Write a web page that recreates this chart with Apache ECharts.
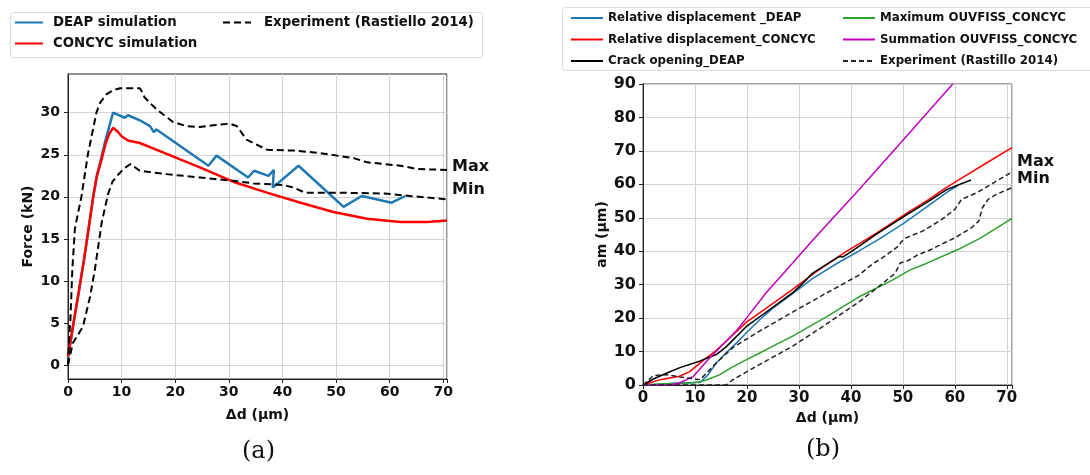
<!DOCTYPE html>
<html><head><meta charset="utf-8">
<script src="https://cdn.jsdelivr.net/npm/echarts@6/dist/echarts.min.js"></script>
<style>html,body{margin:0;padding:0;background:#fff}#c{width:1090px;height:475px}</style>
</head><body><div id="c"></div>
<script>
// ---------- panel (a): Force vs Δd ----------
const deapForce = [[0,0.8],[1,4.8],[2,8.6],[3,12.6],[3.7,15.6],[4.7,20],[5.4,22.6],[6.2,24.6],[6.9,26.5],[8.4,30],[10.6,29.4],[11.2,29.7],[13.4,29.1],[15.3,28.4],[16,27.7],[16.5,28],[26.2,23.7],[27.7,24.9],[33.6,22.3],[34.7,23.1],[37.4,22.5],[38.4,23.2],[38.2,21.1],[43,23.7],[51.4,18.8],[54.8,20.1],[60.4,19.3],[62.9,20.1]];
const concycForce = [[0,1],[0.3,2.2],[1,4.9],[2,8.7],[3,12.6],[3.7,15.6],[4.7,20],[5.4,22.5],[6.2,24.3],[7,26.3],[7.7,27.5],[8.4,28.2],[9.2,27.8],[10,27.2],[11.2,26.7],[13.4,26.4],[18.4,25.1],[24.6,23.5],[30.8,21.8],[37.1,20.5],[43.4,19.3],[49.5,18.2],[55.8,17.4],[62,17.0],[67,17.0],[70.7,17.2]];
const expMaxForce = [[0,0],[0.2,3],[0.45,5.4],[0.8,11.3],[1.3,16.3],[2.5,20],[3.7,25],[5.3,30],[6,31.2],[7.2,32.2],[8.5,32.7],[9.7,32.9],[13.4,32.9],[14,32.3],[14.3,31.8],[16.5,30.4],[19.6,28.9],[22.1,28.4],[24.6,28.3],[27.1,28.5],[30.2,28.7],[31.5,28.4],[33.3,26.8],[37.1,25.6],[42.1,25.5],[47,25.2],[53.3,24.6],[55.8,24.1],[62,23.7],[65.2,23.3],[70.7,23.2]];
const expMinForce = [[0,0],[0.9,2.6],[2.8,4.6],[4.1,8.1],[5.0,11.3],[5.8,14.8],[6.3,17],[7.5,20.4],[8.3,21.8],[9.3,22.6],[10.5,23.4],[11.7,23.9],[12.3,23.6],[13.4,23.1],[18.4,22.7],[24.6,22.3],[30.8,21.9],[34.6,21.6],[40.2,21.4],[42.1,21.1],[44.2,20.5],[49.5,20.5],[59,20.4],[63.9,20.1],[70.7,19.7]];
const forceTicks = [0,5,10,15,20,25,30];

// ---------- panel (b): am vs Δd ----------
const relDispDeap = [[0,0],[3,0.2],[6,0.5],[9,0.7],[11,0.8],[12.5,3],[14.1,6.6],[16,9.6],[18,12.6],[19.9,15.6],[22.5,19.6],[25,23],[28.8,27.3],[32.6,31.8],[37.7,36.7],[41.5,40],[45.4,43.6],[50,48.2],[54,52.6],[58.8,58],[60.5,59.5]];
const relDispConcyc = [[0,0],[3.3,1.6],[7,2.6],[9,4],[11,6.6],[14.1,10.4],[17,14.5],[19.9,18.8],[24,23.3],[28.8,28.6],[33,33.5],[39,39.8],[45,45.5],[50.4,51],[55,55.5],[58.1,58.8],[62,62.5],[66,66.3],[71,71]];
const crackOpeningDeap = [[0,0],[2,1.8],[4.6,3.6],[7.1,5.2],[11,7.2],[14.1,9.1],[16,11.4],[19.9,17.5],[23,21],[26.2,24.6],[28.8,27.6],[30.5,30],[32.6,33.4],[35,35.8],[37.7,38.4],[38.5,38.3],[40,39.8],[45,45.2],[50.4,50.6],[55,55],[58.5,58.5],[63.1,61.3]];
const maxOuvfiss = [[0,0],[3.3,0.3],[9.7,0.7],[11,1],[12.2,1.5],[14.8,3.1],[17,5.2],[19.9,7.6],[22,9.2],[25,11.6],[28.8,14.6],[35.2,20.3],[41.5,26.3],[47.9,31.3],[51.5,34.5],[54.3,36.2],[60.6,40.5],[65,44],[71,49.8]];
const sumOuvfiss = [[0,0],[5.2,0],[7,0.6],[9.7,2.6],[12.2,7],[14.8,11.2],[18,16.3],[19.9,20],[23.7,27.6],[28.8,36.5],[32.6,43.2],[41.5,58.3],[48.1,69.8],[59.6,90]];
const expMaxAm = [[0,0],[2,2.8],[4.6,3.1],[7.1,2.4],[11,1.6],[12.5,4],[14.1,6.6],[17.3,11.2],[20,13.8],[22.4,16.1],[28.8,21.8],[35.2,27.4],[41.5,32.8],[44,36],[46.6,38.6],[48.9,41.2],[50,43.3],[50.6,44],[53.8,46],[57.5,49.5],[60,52.5],[61.3,55.5],[64.5,57.7],[67.5,60.5],[71,63.7]];
const expMinAm = [[0,0],[5,0],[10,0],[16,0],[17.3,1.6],[22.4,6.1],[28.8,11.6],[35.2,18.1],[41.5,24.8],[45,29],[48.5,33.4],[49.5,36.5],[51,37.2],[53,39],[55,40.2],[58.1,42.6],[60,44],[63.2,47],[64.6,49],[65.3,53],[66.4,55.5],[68,57],[71,59]];

const FONT = 'DejaVu Sans';
const chart = echarts.init(document.getElementById('c'), null, {renderer:'canvas'});

function xAxisCfg(grid, max, fs, gap){
  return {type:'value', gridIndex:grid, min:0, max:max, interval:10,
    name:'Δd (µm)', nameLocation:'middle', nameGap:gap,
    nameTextStyle:{fontFamily:FONT, fontWeight:'bold', fontSize:14, color:'#111'},
    axisLine:{show:true, onZero:false, lineStyle:{color:'#222', width:1}},
    axisTick:{show:true, length:4, lineStyle:{color:'#222'}},
    axisLabel:{fontFamily:FONT, fontWeight:'bold', fontSize:fs, color:'#111', margin:6,
      formatter:v => (Math.abs(v%10)<1e-6 ? String(v) : '')},
    splitLine:{show:true, lineStyle:{color:'#d3d3d3', width:1}}};
}
function legendCfg(names, left, top, iw, fs, gap, pad){
  return {data:names, orient:'vertical', left:left, top:top, padding:0,
    itemWidth:iw, itemHeight:14, itemGap:gap, selectedMode:false,
    itemStyle:{opacity:0},
    textStyle:{fontFamily:FONT, fontWeight:'bold', fontSize:fs, color:'#111', padding:[0,0,0,pad]}};
}

const option = {
  animation:false,
  backgroundColor:'#fff',
  grid:[
    {left:68, top:74, width:379, height:305, show:true, borderColor:'#222', borderWidth:1, backgroundColor:'transparent'},
    {left:643, top:84, width:369, height:301, show:true, borderColor:'#444', borderWidth:1, backgroundColor:'transparent'}
  ],
  xAxis:[ xAxisCfg(0, 70.7, 14, 29), xAxisCfg(1, 71, 15, 25) ],
  yAxis:[
    {type:'value', gridIndex:0, min:-1.65, max:34.6, splitNumber:7,
     name:'Force (kN)', nameLocation:'middle', nameGap:33,
     nameTextStyle:{fontFamily:FONT, fontWeight:'bold', fontSize:14, color:'#111'},
     axisLine:{show:true, onZero:false, lineStyle:{color:'#222'}},
     axisTick:{show:true, length:4, lineStyle:{color:'#222'}, customValues:forceTicks},
     axisLabel:{fontFamily:FONT, fontWeight:'bold', fontSize:14, color:'#111', margin:8, customValues:forceTicks},
     splitLine:{show:true, lineStyle:{color:'#d3d3d3'}}},
    {type:'value', gridIndex:1, min:0, max:90, interval:10,
     name:'am (µm)', nameLocation:'middle', nameGap:32,
     nameTextStyle:{fontFamily:FONT, fontWeight:'bold', fontSize:14, color:'#111'},
     axisLine:{show:true, onZero:false, lineStyle:{color:'#222'}},
     axisTick:{show:true, length:4, lineStyle:{color:'#222'}},
     axisLabel:{fontFamily:FONT, fontWeight:'bold', fontSize:16, color:'#111', margin:7},
     splitLine:{show:true, lineStyle:{color:'#d3d3d3'}}}
  ],
  legend:[
    legendCfg(['DEAP simulation','CONCYC simulation'], 14, 16, 28, 13.3, 8, 5),
    legendCfg(['Experiment (Rastiello 2014)'], 222, 16, 28, 13.3, 8, 8),
    legendCfg(['Relative displacement _DEAP','Relative displacement_CONCYC','Crack opening_DEAP'], 570, 12, 32, 11.8, 9.5, 0),
    legendCfg(['Maximum OUVFISS_CONCYC','Summation OUVFISS_CONCYC','Experiment (Rastillo 2014)'], 842, 12, 32, 11.8, 9.5, 0)
  ],
  graphic:[
    {type:'rect', left:8, top:10, shape:{width:472, height:45, r:3}, style:{fill:'none', stroke:'#dcdcdc', lineWidth:1}, z:-1},
    {type:'rect', left:560, top:5, shape:{width:540, height:63, r:3}, style:{fill:'none', stroke:'#dcdcdc', lineWidth:1}, z:-1},
    {type:'text', left:452, top:159, style:{text:'Max', fontFamily:FONT, fontWeight:'bold', fontSize:16, fill:'#111'}},
    {type:'text', left:452, top:182, style:{text:'Min', fontFamily:FONT, fontWeight:'bold', fontSize:16, fill:'#111'}},
    {type:'text', left:1017, top:154, style:{text:'Max', fontFamily:FONT, fontWeight:'bold', fontSize:16, fill:'#111'}},
    {type:'text', left:1017, top:171, style:{text:'Min', fontFamily:FONT, fontWeight:'bold', fontSize:16, fill:'#111'}},
    {type:'text', left:242, top:440, style:{text:'(a)', fontFamily:'DejaVu Serif', fontSize:24, fill:'#111'}},
    {type:'text', left:806, top:438, style:{text:'(b)', fontFamily:'DejaVu Serif', fontSize:24, fill:'#111'}}
  ],
  series:[
    {name:'DEAP simulation', type:'line', xAxisIndex:0, yAxisIndex:0, data:deapForce, symbol:'none', lineStyle:{color:'#1f77b4', width:2.5}, itemStyle:{color:'#1f77b4'}},
    {name:'CONCYC simulation', type:'line', xAxisIndex:0, yAxisIndex:0, data:concycForce, symbol:'none', lineStyle:{color:'#ff0000', width:2.5}, itemStyle:{color:'#ff0000'}},
    {name:'Experiment (Rastiello 2014)', type:'line', xAxisIndex:0, yAxisIndex:0, data:expMaxForce, symbol:'none', lineStyle:{color:'#000', width:2, type:[7,4]}, itemStyle:{color:'#000'}},
    {name:'Experiment (Rastiello 2014)', type:'line', xAxisIndex:0, yAxisIndex:0, data:expMinForce, symbol:'none', lineStyle:{color:'#000', width:2, type:[7,4]}, itemStyle:{color:'#000'}},

    {name:'Relative displacement _DEAP', type:'line', xAxisIndex:1, yAxisIndex:1, data:relDispDeap, symbol:'none', lineStyle:{color:'#1f77b4', width:1.5}, itemStyle:{color:'#1f77b4'}},
    {name:'Relative displacement_CONCYC', type:'line', xAxisIndex:1, yAxisIndex:1, data:relDispConcyc, symbol:'none', lineStyle:{color:'#ff0000', width:1.5}, itemStyle:{color:'#ff0000'}},
    {name:'Crack opening_DEAP', type:'line', xAxisIndex:1, yAxisIndex:1, data:crackOpeningDeap, symbol:'none', lineStyle:{color:'#000', width:1.5}, itemStyle:{color:'#000'}},
    {name:'Maximum OUVFISS_CONCYC', type:'line', xAxisIndex:1, yAxisIndex:1, data:maxOuvfiss, symbol:'none', lineStyle:{color:'#2ca02c', width:1.5}, itemStyle:{color:'#2ca02c'}},
    {name:'Summation OUVFISS_CONCYC', type:'line', xAxisIndex:1, yAxisIndex:1, data:sumOuvfiss, symbol:'none', lineStyle:{color:'#bf00bf', width:1.5}, itemStyle:{color:'#bf00bf'}},
    {name:'Experiment (Rastillo 2014)', type:'line', xAxisIndex:1, yAxisIndex:1, data:expMaxAm, symbol:'none', lineStyle:{color:'#222', width:1.5, type:[5,3]}, itemStyle:{color:'#222'}},
    {name:'Experiment (Rastillo 2014)', type:'line', xAxisIndex:1, yAxisIndex:1, data:expMinAm, symbol:'none', lineStyle:{color:'#222', width:1.5, type:[5,3]}, itemStyle:{color:'#222'}}
  ]
};
chart.setOption(option);
</script>
</body></html>
